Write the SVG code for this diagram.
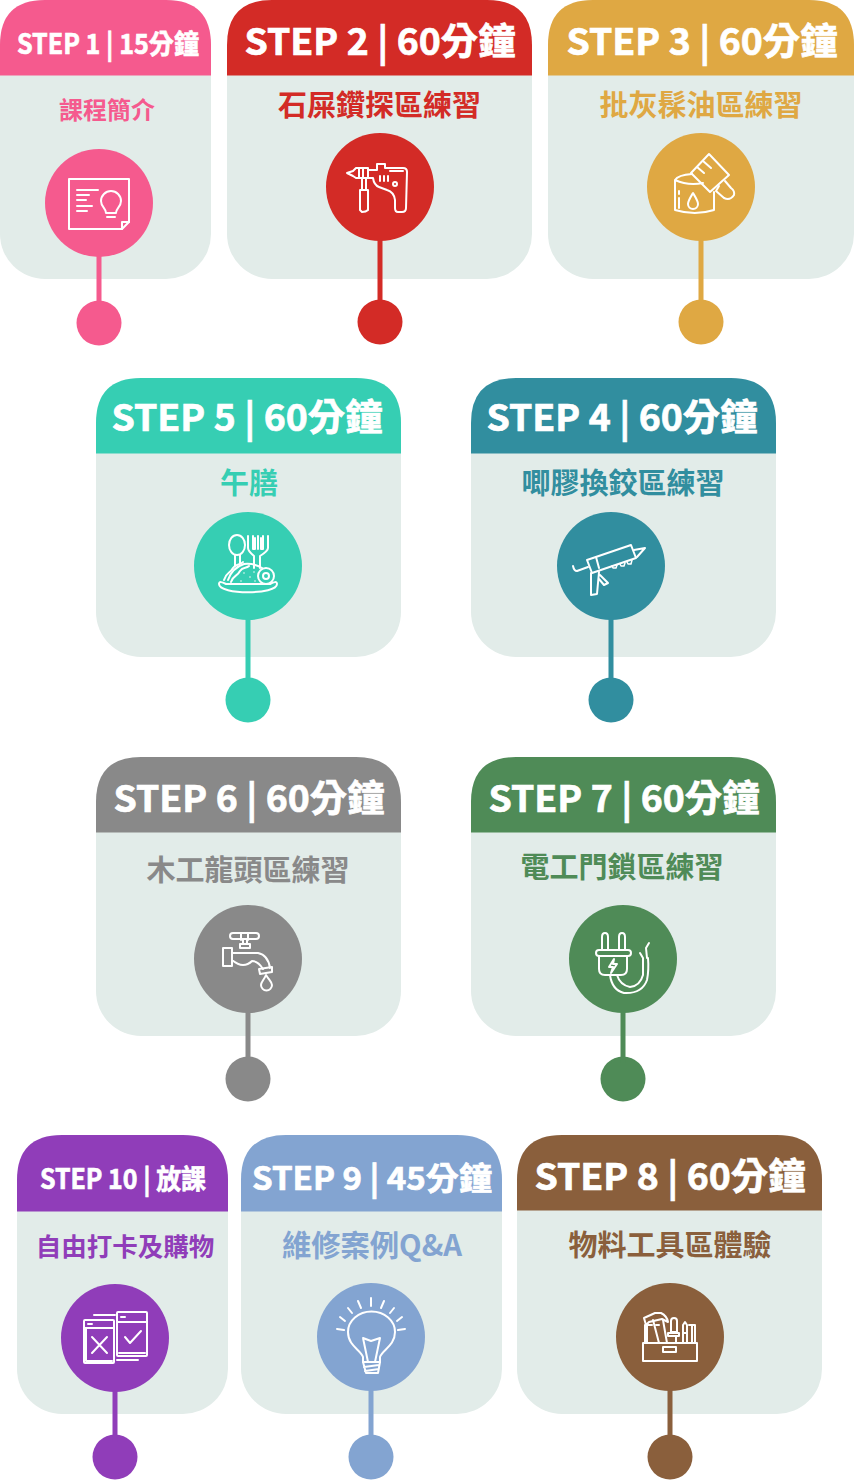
<svg xmlns="http://www.w3.org/2000/svg" width="854" height="1480" viewBox="0 0 854 1480">
<style>
text{font-family:"Noto Sans CJK TC","Noto Sans",sans-serif;font-weight:700;text-anchor:middle}
.h{fill:#fff;stroke:#fff;stroke-width:.7}
.b{fill:#e2ece9}
.i{fill:none;stroke:#fff;stroke-width:2;stroke-linecap:round;stroke-linejoin:round}
.c1{fill:#f55a8e}.c2{fill:#d32b26}.c3{fill:#dfa843}.c4{fill:#318e9f}.c5{fill:#36ceb3}.c6{fill:#898989}.c7{fill:#4f8b57}.c8{fill:#8a5f3c}.c9{fill:#83a4d1}.c10{fill:#903db9}
</style>
<defs>
<path id="tw" d="M45 0H260Q305 0 305 45V75.500H0V45Q0 0 45 0Z"/>
</defs>
<g id="step1">
<rect class="b" x="0" y="0" width="211" height="279" rx="45"/>
<path class="c1" d="M45 0H166Q211 0 211 45V75.500H0V45Q0 0 45 0Z"/>
<text class="h" x="108" y="54" font-size="27.500" textLength="182" lengthAdjust="spacingAndGlyphs">STEP 1 | 15分鐘</text>
<text class="c1" x="107" y="119" font-size="24">課程簡介</text>
<circle class="c1" cx="99" cy="203" r="54"/>
<circle class="c1" cx="99" cy="323" r="22.500"/>
<g class="i"><path d="M69 179H129V222L122 229H69Z"/><path d="M122 229V222H129"/><path d="M77 190H98M77 195H89M77 200H86M77 206H92M77 211H87"/><path d="M106 213C106 208 101 207 101 201A10 10 0 1 1 121 201C121 207 116 208 116 213ZM107 217H115"/></g>
</g>
<g id="step2">
<rect class="b" x="227" y="0" width="305" height="279" rx="45"/>
<use href="#tw" x="227" class="c2"/>
<text class="h" x="380" y="55" font-size="37" textLength="271" lengthAdjust="spacingAndGlyphs">STEP 2 | 60分鐘</text>
<text class="c2" x="379.500" y="116" font-size="29">石屎鑽探區練習</text>
<circle class="c2" cx="380" cy="187" r="54"/>
<circle class="c2" cx="380" cy="322" r="22.500"/>
<g class="i"><path d="M368 170H377V164H385V168H403Q407 168 407 172L406 208Q406 212 402 212H398Q395 212 395 208V200Q394 192 387 190L379 187Q374 185 373 178H368Z"/><path d="M368 168H356L353 171L347 173L353 176L356 178H368ZM359 168V178M363 168V178"/><path d="M362 178V190M366 178V190M360 190H368V210Q366 212 362 212L360 210Z"/><path d="M380 176V181M384 176V181M388 176V181M390 171H403"/><circle cx="395" cy="184" r="2"/></g>
</g>
<g id="step3">
<rect class="b" x="548" y="0" width="306" height="279" rx="45"/>
<path class="c3" d="M593 0H809Q854 0 854 45V75.500H548V45Q548 0 593 0Z"/>
<text class="h" x="702" y="55" font-size="37" textLength="271" lengthAdjust="spacingAndGlyphs">STEP 3 | 60分鐘</text>
<text class="c3" x="701" y="116" font-size="29">批灰髹油區練習</text>
<circle class="c3" cx="701" cy="187" r="54"/>
<circle class="c3" cx="701" cy="322" r="22.500"/>
<g class="i"><path d="M675 180V210Q695 216 714 210V192M675 180Q678 175 692 174M675 180Q688 186 703 183"/><path d="M693 193C690 198 688 201 688 204A5 5 0 0 0 698 204C698 201 696 198 693 193ZM679 191V194M679 198V208"/><path d="M691 173L709 154L729 175L710 192Z"/><path d="M697 167L704 173M703 161L711 168"/><path d="M719 186L716 191L724 198Q730 201 734 195Q735 191 731 188L725 181"/></g>
</g>
<g id="step5">
<rect class="b" x="96" y="378" width="305" height="279" rx="45"/>
<use href="#tw" x="96" y="378" class="c5"/>
<text class="h" x="247" y="431" font-size="37" textLength="271" lengthAdjust="spacingAndGlyphs">STEP 5 | 60分鐘</text>
<text class="c5" x="249" y="494" font-size="29">午膳</text>
<circle class="c5" cx="248" cy="566" r="54"/>
<circle class="c5" cx="248" cy="700" r="22.500"/>
<g class="i" stroke-width="1.800"><ellipse cx="237" cy="545" rx="8" ry="10"/><path d="M235 555V566M240 555V563"/><path d="M248 536V548Q248 551 254 556V568M260 568V556Q268 551 268 548V536M253 536V549H255V538M263 536V549H261V538M258 536V549"/><path d="M228 580Q232 568 244 564Q254 563 262 568"/><path d="M224 580C226 572 230 574 233 568C236 563 240 566 243 562M231 582C233 575 237 577 240 571C243 566 246 569 249 566"/><circle cx="266" cy="576" r="8"/><circle cx="266" cy="576" r="3"/><path d="M219 584C219 595 277 595 277 584C277 581 274 582 270 584H226C222 582 219 581 219 584Z"/><path d="M244 573V573M250 577V577M241 581V581M247 584V584M254 572V572M255 581V581" stroke-width="1.500"/></g>
</g>
<g id="step4">
<rect class="b" x="471" y="378" width="305" height="279" rx="45"/>
<use href="#tw" x="471" y="378" class="c4"/>
<text class="h" x="622" y="431" font-size="37" textLength="271" lengthAdjust="spacingAndGlyphs">STEP 4 | 60分鐘</text>
<text class="c4" x="623" y="494" font-size="29">唧膠換鉸區練習</text>
<circle class="c4" cx="611" cy="566" r="54"/>
<circle class="c4" cx="611" cy="700" r="22.500"/>
<g class="i"><path d="M587 560L631 545L636 558L592 573Z"/><path d="M634 550L645 548L637 557M596 557L599 568"/><path d="M591 573V595L597 594L599 572M600 575L608 583L604 585L599 579"/><path d="M573 566Q574 571 577 571L588 567"/><path d="M612 566L613 568H616L617 565M620 564L621 566H624L625 563M627 562L628 564H631L632 560" stroke-width="1.500"/></g>
</g>
<g id="step6">
<rect class="b" x="96" y="757" width="305" height="279" rx="45"/>
<use href="#tw" x="96" y="757" class="c6"/>
<text class="h" x="249" y="812" font-size="37" textLength="271" lengthAdjust="spacingAndGlyphs">STEP 6 | 60分鐘</text>
<text class="c6" x="248" y="881" font-size="29">木工龍頭區練習</text>
<circle class="c6" cx="248" cy="959" r="54"/>
<circle class="c6" cx="248" cy="1079" r="22.500"/>
<g class="i"><rect x="230" y="933" width="29" height="6" rx="3"/><path d="M241 933V940M248 933V940M243 940V944M247 940V944M240 944H250V948H240Z"/><path d="M223 948H232V966H223ZM232 953H258Q268 955 270 968M232 960Q238 965 243 965Q248 965 252 961Q258 961 263 969"/><path d="M259 969L272 967V972L260 974Z"/><path d="M266 975C264 980 261 982 261 985A5.500 5.500 0 0 0 272 985C272 982 269 980 266 975Z"/></g>
</g>
<g id="step7">
<rect class="b" x="471" y="757" width="305" height="279" rx="45"/>
<use href="#tw" x="471" y="757" class="c7"/>
<text class="h" x="624" y="812" font-size="37" textLength="271" lengthAdjust="spacingAndGlyphs">STEP 7 | 60分鐘</text>
<text class="c7" x="622" y="878" font-size="29">電工門鎖區練習</text>
<circle class="c7" cx="623" cy="959" r="54"/>
<circle class="c7" cx="623" cy="1079" r="22.500"/>
<g class="i" stroke-width="1.600"><path d="M602 950V937Q602 933 605 933Q608 933 608 937V950M619 950V937Q619 933 622 933Q625 933 625 937V950"/><rect x="596" y="950" width="35" height="6" rx="3"/><path d="M599 956V969Q599 975 605 975H621Q627 975 627 969V956"/><path d="M614 959L609 967H613L611 973L617 964H613Z"/><path d="M610 975Q612 990 624 993Q642 994 647 980Q649 970 648 958M617 975Q620 985 630 987Q640 986 643 975V958M643 958L640 953M647 958L646 948L649 943"/></g>
</g>
<g id="step10">
<rect class="b" x="17" y="1135" width="211" height="279" rx="45"/>
<path class="c10" d="M62 1135H183Q228 1135 228 1180V1211.500H17V1180Q17 1135 62 1135Z"/>
<text class="h" x="123" y="1189" font-size="27.500" textLength="166" lengthAdjust="spacingAndGlyphs">STEP 10 | 放課</text>
<text class="c10" x="125" y="1256" font-size="25.500">自由打卡及購物</text>
<circle class="c10" cx="115" cy="1338" r="54"/>
<circle class="c10" cx="115" cy="1457" r="22.500"/>
<g class="i"><rect x="84" y="1320" width="30" height="43" rx="1"/><path d="M84 1328H114M88 1324H92M86 1361H112M86 1328V1361"/><path d="M92 1337L107 1353M107 1337L92 1353"/><rect x="117" y="1312" width="30" height="44" rx="1"/><path d="M117 1322H147M121 1317H125M119 1353H145M125 1337L130 1343L141 1331M94 1315H115M117 1360H138"/></g>
</g>
<g id="step9">
<rect class="b" x="241" y="1135" width="261" height="279" rx="45"/>
<path class="c9" d="M286 1135H457Q502 1135 502 1180V1211.500H241V1180Q241 1135 286 1135Z"/>
<text class="h" x="372" y="1190" font-size="32" textLength="240" lengthAdjust="spacingAndGlyphs">STEP 9 | 45分鐘</text>
<text class="c9" x="372" y="1256" font-size="29.300">維修案例Q&amp;A</text>
<circle class="c9" cx="371" cy="1337" r="54"/>
<circle class="c9" cx="371" cy="1457" r="22.500"/>
<g class="i" stroke-width="2.200"><path d="M363 1362V1357C361 1350 348 1346 348 1332A23 20 0 0 1 395 1332C395 1346 382 1350 380 1357V1362Z"/><path d="M363 1338L371 1341L380 1338L375 1362M368 1362L363 1338"/><path d="M363 1362L366 1373H378L380 1362M364 1367L379 1365M365 1371L379 1369"/><path d="M371 1298V1306M358 1301L361 1308M348 1308L352 1313M340 1317L345 1321M337 1329L344 1330M384 1301L381 1308M394 1308L390 1313M402 1317L397 1321M405 1329L398 1330"/></g>
</g>
<g id="step8">
<rect class="b" x="517" y="1135" width="305" height="279" rx="45"/>
<use href="#tw" x="517" y="1135" class="c8"/>
<text class="h" x="670" y="1190" font-size="37" textLength="271" lengthAdjust="spacingAndGlyphs">STEP 8 | 60分鐘</text>
<text class="c8" x="670" y="1256" font-size="29">物料工具區體驗</text>
<circle class="c8" cx="670" cy="1337" r="54"/>
<circle class="c8" cx="670" cy="1457" r="22.500"/>
<g class="i" stroke-width="1.600"><path d="M643 1343H697V1361H643ZM645 1343V1325H652M647 1325V1343M695 1343V1325H689M692 1325V1343M656 1325H659"/><rect x="663" y="1347" width="13" height="5"/><path d="M653 1320L659 1343M663 1320L667 1343"/><path d="M644 1318L655 1313H661Q667 1316 668 1322L662 1319L649 1322L646 1325Z"/><path d="M671 1321Q671 1318 674 1318Q677 1318 677 1321V1332H671ZM668 1333H679V1336H668ZM672 1336H676V1343M683 1333V1325L685 1322L687 1325V1333ZM683 1333H687V1343H683Z"/></g>
</g>
<g id="connectors">
<rect class="c1" x="96.500" y="255" width="5" height="50"/>
<rect class="c2" x="377.500" y="239" width="5" height="65"/>
<rect class="c3" x="698.500" y="239" width="5" height="65"/>
<rect class="c5" x="245.500" y="618" width="5" height="65"/>
<rect class="c4" x="608.500" y="618" width="5" height="65"/>
<rect class="c6" x="245.500" y="1011" width="5" height="52"/>
<rect class="c7" x="620.500" y="1011" width="5" height="52"/>
<rect class="c10" x="112.500" y="1390" width="5" height="52"/>
<rect class="c9" x="368.500" y="1389" width="5" height="53"/>
<rect class="c8" x="667.500" y="1389" width="5" height="53"/>
</g>
</svg>
